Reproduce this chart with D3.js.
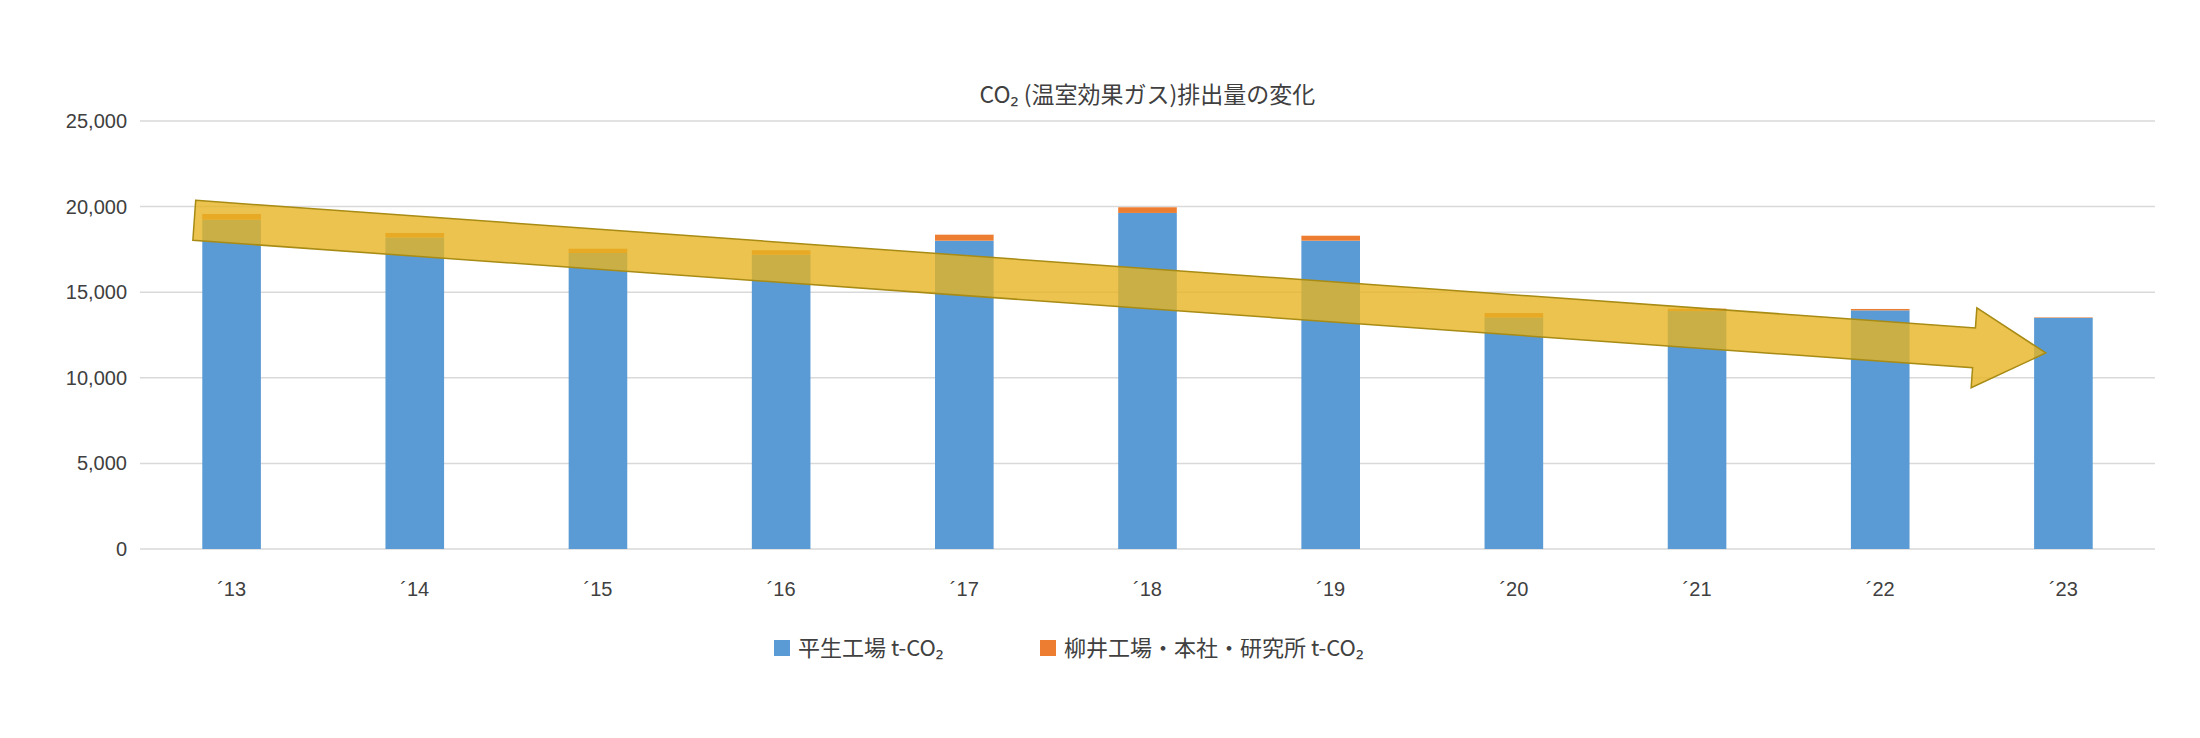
<!DOCTYPE html>
<html>
<head>
<meta charset="utf-8">
<script src="https://cdn.jsdelivr.net/npm/d3@7"></script>
<style>
  body { margin: 0; background: #fff; }
  text { font-family: "Noto Sans CJK JP", "Noto Sans", sans-serif; fill: #404040; }
</style>
</head>
<body>
<div id="chart"></div>
<script>
var categories = ["´13", "´14", "´15", "´16", "´17", "´18", "´19", "´20", "´21", "´22", "´23"];
var hirao = [19240, 18200, 17290, 17190, 18010, 19630, 18010, 13530, 13900, 13940, 13500];
var yanai = [330, 260, 250, 260, 350, 330, 290, 250, 140, 80, 30];
var yTicks = [0, 5000, 10000, 15000, 20000, 25000];
var seriesNames = ["平生工場 t-CO₂", "柳井工場・本社・研究所 t-CO₂"];
var colors = ["#5B9BD5", "#ED7D31"];

var W = 2200, H = 738;
var m = { top: 121, right: 45, bottom: 189, left: 140 };

var svg = d3.select("#chart").append("svg")
    .attr("width", W)
    .attr("height", H);

var x = d3.scaleBand()
    .domain(categories)
    .range([m.left, W - m.right])
    .paddingInner(0.68)
    .paddingOuter(0.34);

var y = d3.scaleLinear()
    .domain([0, 25000])
    .range([H - m.bottom, m.top]);

// gridlines
svg.append("g")
    .selectAll("line")
    .data(yTicks)
    .enter().append("line")
    .attr("x1", m.left)
    .attr("x2", W - m.right)
    .attr("y1", function(d){ return y(d); })
    .attr("y2", function(d){ return y(d); })
    .attr("stroke", "#d9d9d9")
    .attr("stroke-width", 1.5);

// y axis labels
var gy = svg.append("g")
    .attr("transform", "translate(" + (m.left - 10) + ",0)")
    .call(d3.axisLeft(y).tickValues(yTicks).tickSize(0).tickFormat(d3.format(",")));
gy.select(".domain").remove();
gy.selectAll("text").attr("font-size", 20).style("font-family", "inherit").attr("fill", "#404040");

// x axis labels
var gx = svg.append("g")
    .attr("transform", "translate(0," + (H - m.bottom + 30) + ")")
    .call(d3.axisBottom(x).tickSize(0));
gx.select(".domain").remove();
gx.selectAll("text").attr("font-size", 20).style("font-family", "inherit").attr("fill", "#404040");

// stacked bars
var table = categories.map(function(c, i){ return { cat: c, a: hirao[i], b: yanai[i] }; });
var stacked = d3.stack().keys(["a", "b"])(table);

svg.append("g")
    .selectAll("g")
    .data(stacked)
    .enter().append("g")
    .attr("fill", function(d, i){ return colors[i]; })
    .selectAll("rect")
    .data(function(d){ return d; })
    .enter().append("rect")
    .attr("x", function(d){ return x(d.data.cat); })
    .attr("width", x.bandwidth())
    .attr("y", function(d){ return y(d[1]); })
    .attr("height", function(d){ return y(d[0]) - y(d[1]); });

// trend arrow (annotation)
var tail = [x("´13") - 8, y(19200)];
var tip = [x("´23") + x.bandwidth() * 0.2, y(11450)];
var dx = tip[0] - tail[0], dy = tip[1] - tail[1];
var len = Math.sqrt(dx * dx + dy * dy);
var ux = dx / len, uy = dy / len, nx = -uy, ny = ux;
var shaftHalf = 20, headHalf = 40, headLen = 72;
var base = [tip[0] - ux * headLen, tip[1] - uy * headLen];
function pt(p, s){ return [p[0] + nx * s, p[1] + ny * s]; }
var arrowPts = [
  pt(tail, -shaftHalf), pt(base, -shaftHalf), pt(base, -headHalf),
  tip, pt(base, headHalf), pt(base, shaftHalf), pt(tail, shaftHalf)
];
svg.append("path")
    .attr("d", d3.line()(arrowPts) + "Z")
    .attr("fill", "#E6B422")
    .attr("fill-opacity", 0.8)
    .attr("stroke", "#A88B14")
    .attr("stroke-width", 1.5);

// title
svg.append("text")
    .attr("x", (m.left + W - m.right) / 2)
    .attr("y", 103)
    .attr("text-anchor", "middle")
    .attr("font-size", 23)
    .text("CO₂ (温室効果ガス)排出量の変化");

// legend
var lx = [774, 1040];
var leg = svg.append("g")
    .selectAll("g")
    .data(seriesNames)
    .enter().append("g")
    .attr("transform", function(d, i){ return "translate(" + lx[i] + ",650)"; });
leg.append("rect")
    .attr("y", -10).attr("width", 16).attr("height", 16)
    .attr("fill", function(d, i){ return colors[i]; });
leg.append("text")
    .attr("x", 24).attr("y", 6)
    .attr("font-size", 22)
    .text(function(d){ return d; });
</script>
</body>
</html>
